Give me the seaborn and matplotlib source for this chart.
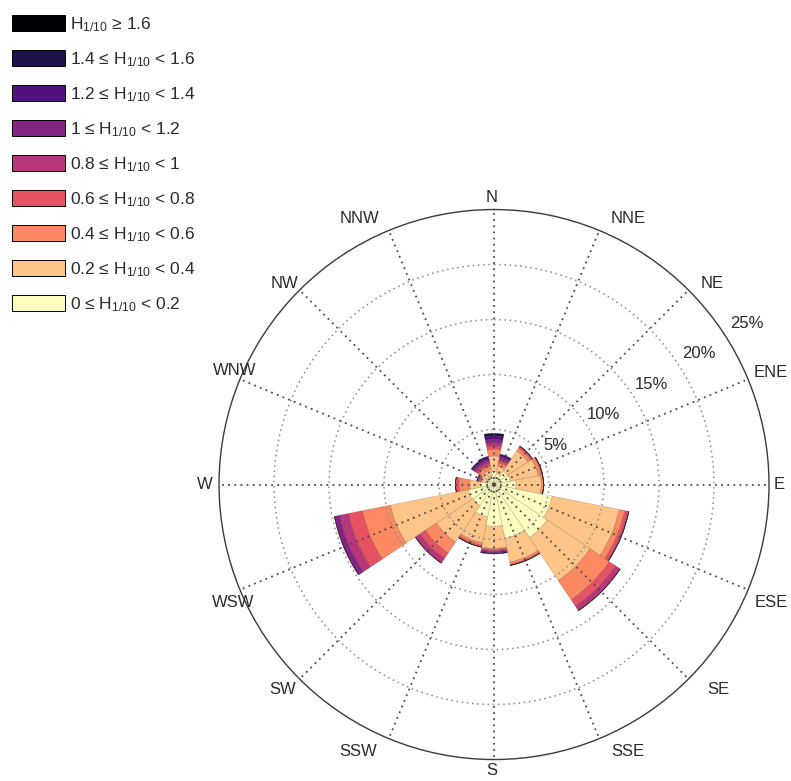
import numpy as np
import matplotlib
matplotlib.use("Agg")
import matplotlib.pyplot as plt
import seaborn as sns
from matplotlib.patches import Patch

# ---------------- data ----------------
directions = ["N", "NNE", "NE", "ENE", "E", "ESE", "SE", "SSE",
              "S", "SSW", "SW", "WSW", "W", "WNW", "NW", "NNW"]

bin_labels = [
    "0 \u2264 H$_{1/10}$ < 0.2",
    "0.2 \u2264 H$_{1/10}$ < 0.4",
    "0.4 \u2264 H$_{1/10}$ < 0.6",
    "0.6 \u2264 H$_{1/10}$ < 0.8",
    "0.8 \u2264 H$_{1/10}$ < 1",
    "1 \u2264 H$_{1/10}$ < 1.2",
    "1.2 \u2264 H$_{1/10}$ < 1.4",
    "1.4 \u2264 H$_{1/10}$ < 1.6",
    "H$_{1/10}$ \u2265 1.6",
]

#            N    NNE  NE   ENE  E    ESE  SE   SSE  S    SSW  SW   WSW  W    WNW  NW   NNW
f_00_02 = [1.2, 1.0, 1.5, 1.5, 2.0, 5.4, 5.8, 5.0, 3.8, 3.0, 2.3, 2.4, 1.2, 0.8, 0.8, 0.8]
f_02_04 = [1.4, 0.7, 2.2, 2.6, 2.3, 6.2, 4.7, 2.2, 2.0, 2.4, 4.0, 7.2, 1.0, 0.4, 0.6, 0.6]
f_04_06 = [0.6, 0.3, 0.3, 0.3, 0.2, 0.5, 2.1, 0.2, 0.1, 0.2, 1.2, 2.6, 1.0, 0.1, 0.3, 0.3]
f_06_08 = [0.3, 0.2, 0.2, 0.1, 0.0, 0.3, 0.7, 0.1, 0.1, 0.2, 0.6, 1.3, 0.3, 0.1, 0.2, 0.2]
f_08_10 = [0.3, 0.2, 0.0, 0.0, 0.0, 0.1, 0.5, 0.0, 0.1, 0.0, 0.5, 0.8, 0.0, 0.1, 0.2, 0.2]
f_10_12 = [0.3, 0.2, 0.0, 0.0, 0.0, 0.0, 0.0, 0.0, 0.1, 0.0, 0.0, 0.5, 0.0, 0.1, 0.2, 0.2]
f_12_14 = [0.3, 0.2, 0.0, 0.0, 0.0, 0.0, 0.0, 0.0, 0.1, 0.0, 0.0, 0.0, 0.0, 0.0, 0.2, 0.3]
f_14_16 = [0.25, 0.0, 0.0, 0.0, 0.0, 0.0, 0.0, 0.0, 0.0, 0.0, 0.0, 0.0, 0.0, 0.0, 0.0, 0.0]
f_16_up = [0.0, 0.0, 0.0, 0.0, 0.0, 0.0, 0.0, 0.0, 0.0, 0.0, 0.0, 0.0, 0.0, 0.0, 0.0, 0.0]

bins = [f_00_02, f_02_04, f_04_06, f_06_08, f_08_10, f_10_12, f_12_14, f_14_16, f_16_up]

ring_values = [5, 10, 15, 20, 25]
ring_labels = ["5%", "10%", "15%", "20%", "25%"]

# ---------------- layout (label placement, in pixels from rose centre) ----------------
label_offsets_px = {
    "N": (-2, -287), "NNE": (134, -266), "NE": (218, -201), "ENE": (277, -112),
    "E": (285, 0), "ESE": (277, 118), "SE": (224, 205), "SSE": (134, 267),
    "S": (-2, 286), "SSW": (-136, 267), "SW": (-211, 205), "WSW": (-261, 118),
    "W": (-289, 0), "WNW": (-259, -114), "NW": (-210, -201), "NNW": (-135, -266),
}
px_per_pct = 275.0 / 25.0

# ---------------- style ----------------
sns.set_theme(style="white")
plt.rcParams["font.family"] = ["Liberation Sans", "DejaVu Sans"]
plt.rcParams["mathtext.fontset"] = "custom"
plt.rcParams["mathtext.rm"] = "Liberation Sans"
plt.rcParams["mathtext.default"] = "rm"

cmap = sns.color_palette("magma", as_cmap=True)
colors = [cmap(v) for v in np.linspace(1, 0, len(bins))]

fig = plt.figure(figsize=(7.91, 7.81), dpi=100)
ax = fig.add_axes([0.2769, 0.0275, 0.6953, 0.7042], projection="polar")
ax.set_theta_zero_location("N")
ax.set_theta_direction(-1)

n = len(directions)
theta = np.deg2rad(np.arange(n) * 360.0 / n)
width = np.deg2rad(360.0 / n)

bottom = np.zeros(n)
handles = []
for vals, col, lab in zip(bins, colors, bin_labels):
    vals = np.asarray(vals, dtype=float)
    ax.bar(theta, vals, width=width, bottom=bottom, color=col,
           edgecolor=(0, 0, 0, 0.22), linewidth=0.4, align="center", zorder=1)
    bottom = bottom + vals
    handles.append(Patch(facecolor=col, edgecolor="black", linewidth=0.7, label=lab))

ax.set_ylim(0, 25)
ax.set_xticks(theta)
ax.set_yticks(ring_values[:-1])
ax.set_xticklabels([])
ax.set_yticklabels([])
ax.set_axisbelow(False)
ax.xaxis.grid(True, color="#4a4a4a", linestyle=(0, (1, 2.4)), linewidth=1.3)
ax.yaxis.grid(True, color="#8a8a8a", linestyle=(0, (1, 2.4)), linewidth=1.1)
ax.spines["polar"].set_color("#3a3a3a")
ax.spines["polar"].set_linewidth(1.0)

txt_col = "#2a2a2a"
for lab in directions:
    dx, dy = label_offsets_px[lab]
    th = np.arctan2(dx, -dy)
    r = np.hypot(dx, dy) / px_per_pct
    ax.text(th, r, lab, ha="center", va="center", fontsize=12,
            color=txt_col, clip_on=False)

lab_th = np.deg2rad(57.5)
for rv, rl in zip(ring_values, ring_labels):
    ax.text(lab_th, rv * 1.03 + 1.5, rl, ha="center", va="center", fontsize=12,
            color=txt_col, clip_on=False)

fig.legend(handles=handles[::-1], loc="upper left",
           bbox_to_anchor=(0.015, 0.981), frameon=False, fontsize=12.5,
           handlelength=3.05, handleheight=1.05, labelspacing=0.94,
           handletextpad=0.3, borderpad=0, borderaxespad=0)
for t in fig.legends[0].get_texts():
    t.set_color(txt_col)

fig.savefig("out.png", dpi=100)
